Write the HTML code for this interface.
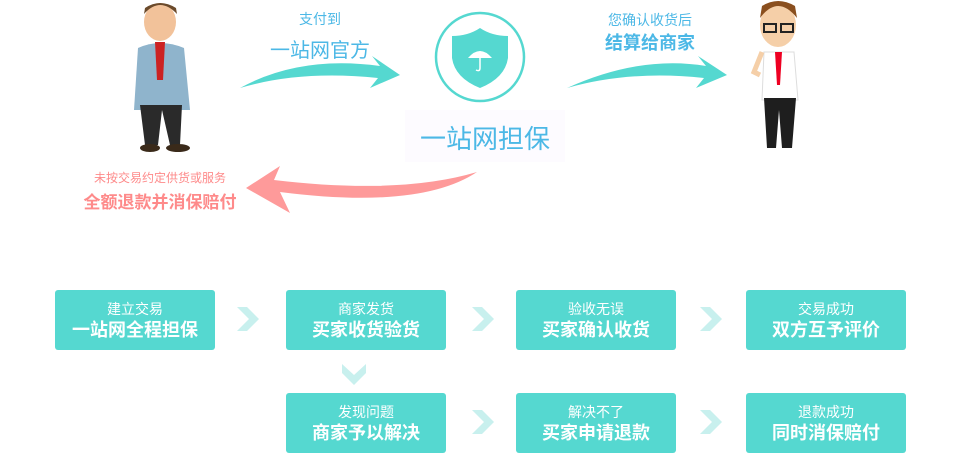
<!DOCTYPE html>
<html><head><meta charset="utf-8"><style>
body{margin:0;width:960px;height:455px;background:#fff;position:relative;overflow:hidden;font-family:"Liberation Sans","Noto Sans CJK SC",sans-serif}
.t{position:absolute;white-space:nowrap;text-align:center}
.b{position:absolute;width:160px;height:60px;background:#55d8d0;border-radius:3px;color:#fff;text-align:center}
.b .s{font-size:14px;margin-top:11px;line-height:16px}
.b .l{font-size:18px;font-weight:bold;line-height:26px}
svg{position:absolute;left:0;top:0}
</style></head><body>
<svg width="960" height="455">
<path d="M240 88 Q300 55 380 66 L372 56 L400 75 L370 88 L378 78 Q300 70 240 88Z" fill="#55d8d0"/>
<path d="M567 88 Q640 55 706 66 L698 56 L727 75 L696 88 L704 78 Q630 70 567 88Z" fill="#55d8d0"/>
<path d="M477 172 Q420 210 280 192 L290 213 L246 188 L280 166 L274 180 Q400 195 477 172Z" fill="#fe9a9a"/>
<circle cx="480" cy="57" r="44" fill="none" stroke="#55d8d0" stroke-width="2.5"/>
<path d="M480 28 Q468 36 452 36 L452 58 Q455 78 480 88 Q505 78 508 58 L508 36 Q492 36 480 28Z" fill="#55d8d0"/>
<path d="M468 58 Q480 44 492 58 Z" fill="#fff"/>
<path d="M480 56 L480 68 Q480 72 476 70" stroke="#fff" stroke-width="1.5" fill="none"/>
<rect x="405" y="110" width="160" height="52" fill="#fdfbff"/>
<g fill="#c8f0ee">
<path d="M237 307 L247 307 L259 319 L247 331 L237 331 L249 319Z"/>
<path d="M472 307 L482 307 L494 319 L482 331 L472 331 L484 319Z"/>
<path d="M700 307 L710 307 L722 319 L710 331 L700 331 L712 319Z"/>
<path d="M472 410 L482 410 L494 422 L482 434 L472 434 L484 422Z"/>
<path d="M700 410 L710 410 L722 422 L710 434 L700 434 L712 422Z"/>
<path d="M342 364 L342 373 L354 385 L366 373 L366 364 L354 375Z"/>
</g>
<g>
<ellipse cx="160" cy="22" rx="16" ry="19" fill="#f2c29a"/>
<path d="M144 14 Q160 -4 177 14 L176 8 Q160 -2 145 8Z" fill="#6b4a2b"/>
<path d="M138 48 Q160 38 184 48 L190 110 L134 110Z" fill="#8fb4cc"/>
<path d="M155 42 L165 42 L163 80 L157 80Z" fill="#c22"/>
<path d="M140 105 L182 105 L180 145 L170 145 L162 110 L158 145 L145 145Z" fill="#2a2a2a"/>
<ellipse cx="150" cy="148" rx="10" ry="4" fill="#3a2a1a"/><ellipse cx="178" cy="148" rx="12" ry="4" fill="#3a2a1a"/>
</g>
<g>
<ellipse cx="778" cy="25" rx="18" ry="22" fill="#f5cfa8"/>
<path d="M760 18 Q778 -6 797 18 L795 6 Q778 -4 762 6Z" fill="#8a4f1e"/>
<rect x="764" y="24" width="12" height="8" fill="none" stroke="#222" stroke-width="2"/><rect x="781" y="24" width="12" height="8" fill="none" stroke="#222" stroke-width="2"/>
<path d="M764 52 L794 52 L798 100 L762 100Z" fill="#fff" stroke="#ddd"/>
<path d="M775 52 L782 52 L780 85 L777 85Z" fill="#e02"/>
<path d="M762 52 L754 72 L760 75" stroke="#f5cfa8" stroke-width="5" fill="none"/>
<path d="M764 98 L796 98 L792 148 L782 148 L779 110 L776 148 L767 148Z" fill="#1e1e1e"/>
</g>
</svg>
<div class="t" style="left:280px;top:9px;width:80px;font-size:14px;color:#4cb8e6">支付到</div>
<div class="t" style="left:250px;top:34px;width:140px;font-size:20px;color:#4cb8e6">一站网官方</div>
<div class="t" style="left:580px;top:10px;width:140px;font-size:14px;color:#4cb8e6">您确认收货后</div>
<div class="t" style="left:580px;top:29px;width:140px;font-size:18px;font-weight:bold;color:#4cb8e6">结算给商家</div>
<div class="t" style="left:405px;top:119px;width:160px;font-size:26px;color:#4cb8e6">一站网担保</div>
<div class="t" style="left:80px;top:169px;width:160px;font-size:12px;color:#fe8a8a">未按交易约定供货或服务</div>
<div class="t" style="left:70px;top:188px;width:180px;font-size:17px;font-weight:bold;color:#fe8a8a">全额退款并消保赔付</div>
<div class="b" style="left:55px;top:290px"><div class="s">建立交易</div><div class="l">一站网全程担保</div></div>
<div class="b" style="left:286px;top:290px"><div class="s">商家发货</div><div class="l">买家收货验货</div></div>
<div class="b" style="left:516px;top:290px"><div class="s">验收无误</div><div class="l">买家确认收货</div></div>
<div class="b" style="left:746px;top:290px"><div class="s">交易成功</div><div class="l">双方互予评价</div></div>
<div class="b" style="left:286px;top:393px"><div class="s">发现问题</div><div class="l">商家予以解决</div></div>
<div class="b" style="left:516px;top:393px"><div class="s">解决不了</div><div class="l">买家申请退款</div></div>
<div class="b" style="left:746px;top:393px"><div class="s">退款成功</div><div class="l">同时消保赔付</div></div>
</body></html>
